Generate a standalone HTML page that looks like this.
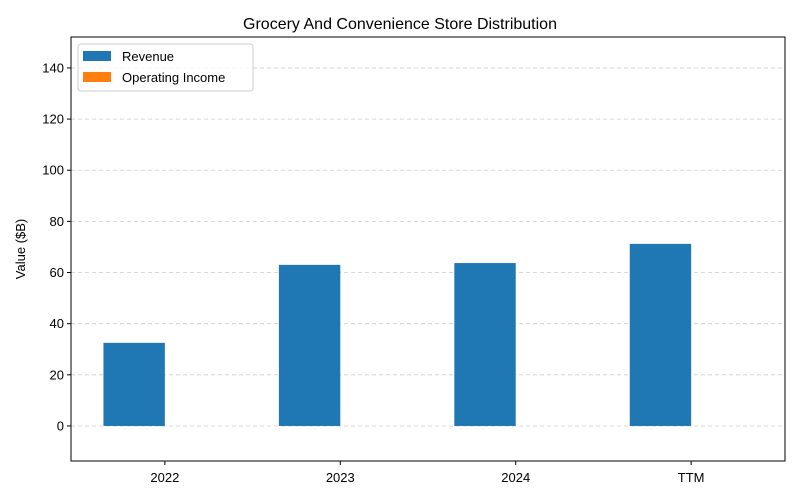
<!DOCTYPE html>
<html><head><meta charset="utf-8"><style>
body{margin:0;background:#fff;}
svg{display:block;font-family:"Liberation Sans","DejaVu Sans",sans-serif;}
</style></head><body>
<svg id="chart" width="800" height="500" viewBox="0 0 800 500">
<rect width="800" height="500" fill="#fff"/>
<g id="grid"></g>
<g id="bars"></g>
<rect x="71" y="37" width="714" height="424" fill="none" stroke="#000" stroke-width="1"/>
<g id="yticks"></g>
<g id="xticks"></g>
<text x="400" y="29" text-anchor="middle" font-size="16">Grocery And Convenience Store Distribution</text>
<text transform="translate(25,249) rotate(-90)" text-anchor="middle" font-size="13">Value ($B)</text>
<g>
<rect x="78" y="44" width="175" height="47" rx="3" fill="#fff" fill-opacity="0.8" stroke="#ccc"/>
<rect x="83" y="51" width="28" height="10" fill="#1f77b4"/>
<text x="122" y="61" font-size="13">Revenue</text>
<rect x="83" y="72" width="28" height="10" fill="#ff7f0e"/>
<text x="122" y="82" font-size="13">Operating Income</text>
</g>
</svg>
<script>
const categories = ["2022","2023","2024","TTM"];
const revenue = [32.5, 63.0, 63.7, 71.2];
const operatingIncome = [0.0, 0.0, 0.0, 0.0];
const yTicks = [0,20,40,60,80,100,120,140];

const NS="http://www.w3.org/2000/svg";
const L=71,R=785,T=37,B=461;
const yMin=-13.7,yMax=152.1, xMin=-0.535, xMax=3.535;
const y=v=>B-(v-yMin)/(yMax-yMin)*(B-T);
const x=v=>L+(v-xMin)/(xMax-xMin)*(R-L);
function mk(t,a,p){const e=document.createElementNS(NS,t);for(const k in a)e.setAttribute(k,a[k]);p.appendChild(e);return e;}
const grid=document.getElementById('grid'),bars=document.getElementById('bars'),yt=document.getElementById('yticks'),xt=document.getElementById('xticks');
yTicks.forEach(v=>{
 const gl=mk('line',{x1:L,x2:R,y1:y(v),y2:y(v),stroke:'#ccc','stroke-dasharray':'4,3','stroke-width':0.8},grid);
 
 
 const tk=mk('line',{x1:L-4,x2:L,y1:y(v),y2:y(v),stroke:'#000'},yt);
 
 
 const tx=mk('text',{x:L-7,y:y(v)+4.5,'text-anchor':'end','font-size':13},yt);
 tx.textContent=v;
 
 
});
const w=0.35;
categories.forEach((c,i)=>{
 const r=mk('rect',{x:x(i-w),width:x(i)-x(i-w),y:Math.min(y(revenue[i]),y(0)),height:Math.abs(y(0)-y(revenue[i])),fill:'#1f77b4'},bars);
 
 
 const o=mk('rect',{x:x(i),width:x(i+w)-x(i),y:Math.min(y(operatingIncome[i]),y(0)),height:Math.abs(y(0)-y(operatingIncome[i])),fill:'#ff7f0e'},bars);
 
 
 const tk=mk('line',{x1:x(i),x2:x(i),y1:B,y2:B+4,stroke:'#000'},xt);
 
 
 const tx=mk('text',{x:x(i),y:B+21,'text-anchor':'middle','font-size':13},xt);
 tx.textContent=c;
 
 
});
</script>
</body></html>
